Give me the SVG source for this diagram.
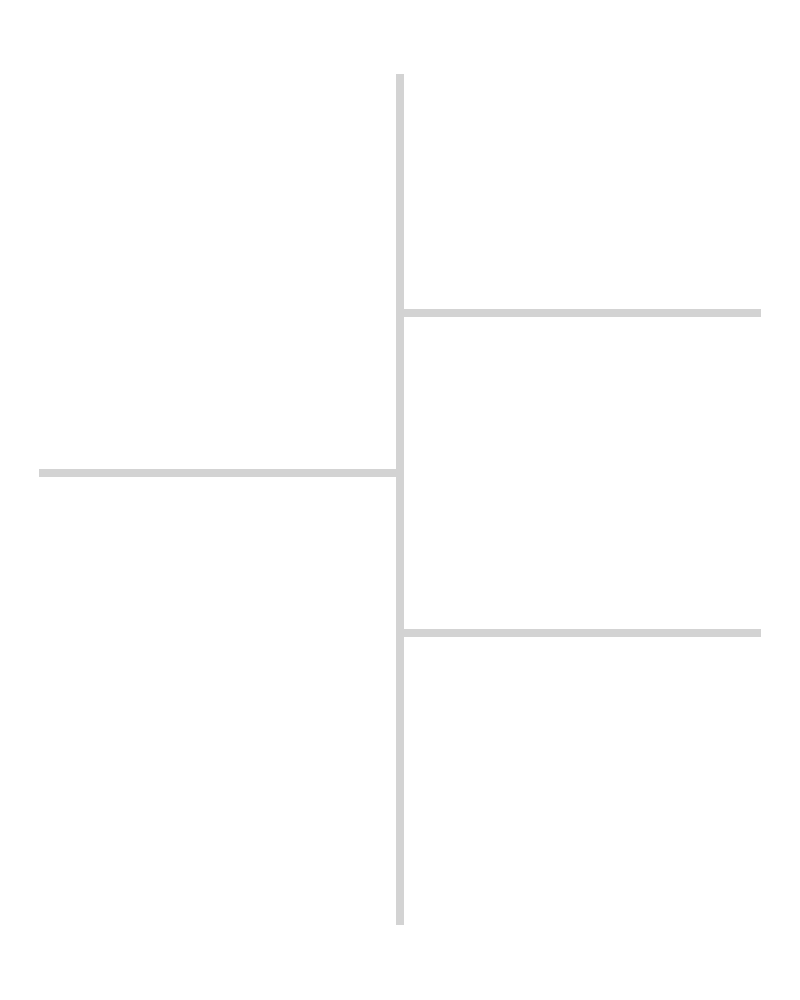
<svg xmlns="http://www.w3.org/2000/svg" width="800" height="1000" viewBox="0 0 800 1000">
<style>.ln{fill:#d3d3d3}</style>
<rect width="800" height="1000" fill="#ffffff"/>
<g id="connectors">
<rect class="ln" x="396" y="74" width="8" height="851"/>
<rect class="ln" x="404" y="309" width="357" height="8"/>
<rect class="ln" x="39" y="469" width="357" height="8"/>
<rect class="ln" x="404" y="629" width="357" height="8"/>
</g>
</svg>
